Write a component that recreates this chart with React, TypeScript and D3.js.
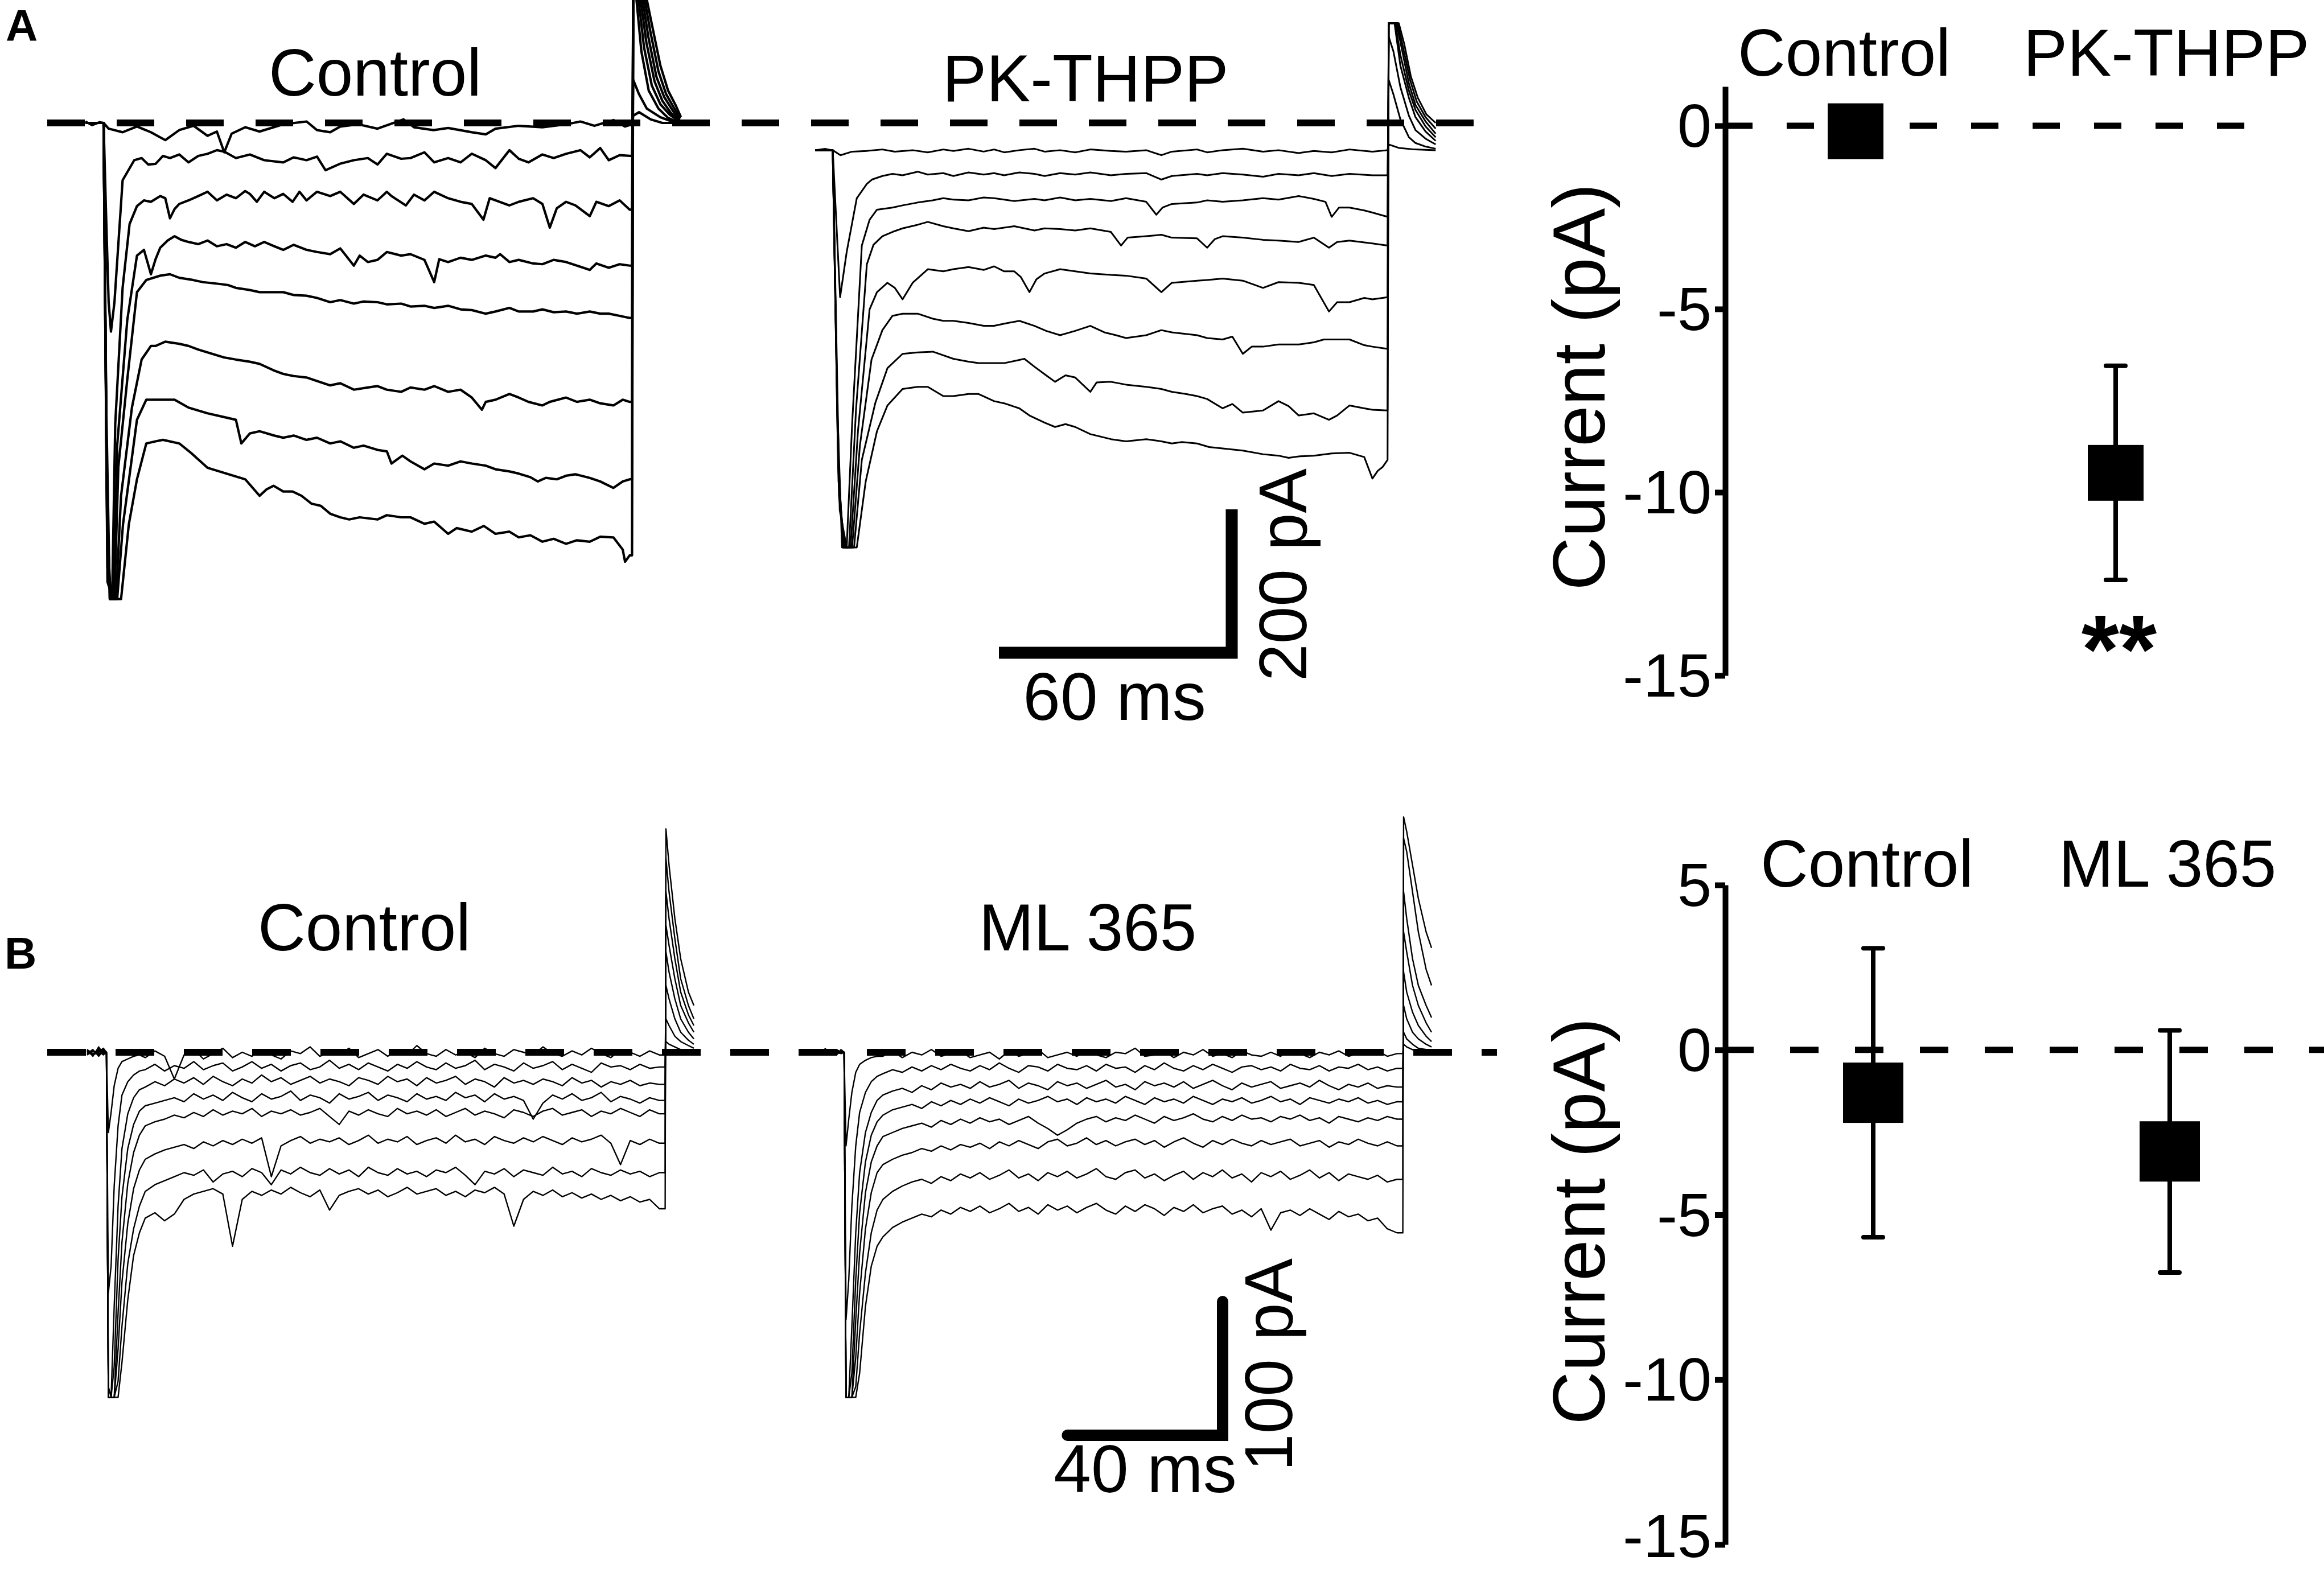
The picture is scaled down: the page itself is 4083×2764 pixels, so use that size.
import React, { useRef, useEffect } from "react";
import * as d3 from "d3";

type Pt = [number, number];

const W = 4083;
const H = 2764;
const FONT = "'Liberation Sans', Arial, Helvetica, sans-serif";

// ---------- Panel A, Control traces (ms, pA) ----------
const ctrlA: Pt[][] = [
  [[-4.7,2],[-3,-3],[-1,1],[0,0],[1.3,-8],[4.9,-13],[8.6,-5],[12.2,-13],[15.9,-24],[19.5,-10],[23.2,-4],[26.8,-18],[29.2,-12],[31.1,-41],[33,-15],[36.5,-6],[40.2,-12],[46.3,-2],[52.3,2],[55,-10],[58.4,-13],[61,-5],[65.7,-2],[70.6,-8],[77.3,5],[80,-6],[85,-10],[88.8,-7],[94.9,-13],[98.5,-16],[101,-8],[107,-4],[113.1,-6],[119.2,-2],[122.9,2],[126.5,-4],[131.4,4],[134.4,-5],[136.2,-2],[136.5,10],[138,15],[141,5],[144,0],[148.4,0]],
  [[-4.7,0],[-0.3,0],[0,0],[0.6,-120],[1.3,-250],[1.9,-291],[2.8,-250],[4.9,-80],[7.9,-52],[9.8,-49],[11.5,-58],[13.4,-57],[15.3,-46],[17.1,-49],[19.5,-44],[21.9,-55],[24.4,-46],[26.8,-43],[29.2,-38],[31.1,-40],[34.1,-49],[37.7,-44],[41.4,-52],[46.3,-55],[49,-48],[52.3,-52],[55,-47],[57.2,-66],[60.9,-57],[64.5,-52],[68.1,-49],[70.6,-58],[73,-43],[76.7,-50],[79.1,-49],[82.7,-41],[85.2,-55],[88.8,-49],[92,-55],[94.9,-43],[98.5,-52],[101,-63],[104.6,-38],[107,-50],[109.5,-55],[113.1,-44],[116,-49],[119.2,-43],[122.9,-38],[125.3,-48],[128,-35],[130.2,-52],[133,-45],[135.6,-46],[136.2,-46],[136.5,60],[138,40],[140,20],[143.5,8],[146,3],[148.4,0]],
  [[-4.7,0],[-0.3,0],[0,0],[0.7,-400],[1.6,-664],[2.2,-664],[3,-420],[4.9,-230],[6.7,-141],[8.6,-116],[10.4,-108],[12.2,-110],[14.6,-102],[15.9,-105],[17.1,-133],[18.3,-120],[19.5,-113],[21.9,-108],[24.4,-102],[26.8,-96],[29.2,-108],[31.7,-100],[34.1,-105],[36.5,-95],[37.7,-99],[39.5,-110],[41.4,-96],[44,-105],[46.3,-99],[48.7,-110],[50.5,-96],[52.3,-108],[55,-96],[58.4,-102],[61,-96],[64.5,-113],[67,-100],[70.6,-108],[73,-96],[74.2,-102],[77.9,-115],[80,-100],[82.7,-108],[85.2,-96],[88.8,-105],[92,-110],[94.9,-113],[97.9,-135],[99.5,-105],[101,-108],[104.6,-115],[107,-110],[110.7,-105],[113.1,-113],[115,-146],[116.8,-119],[119.2,-110],[121.6,-115],[125.3,-130],[127,-110],[130.2,-116],[133,-108],[135.6,-121],[136.2,-121],[136.5,180],[137.2,180],[138.6,100],[140.5,45],[143,20],[145.5,7],[148.4,0]],
  [[-4.7,0],[-0.3,0],[0,0],[0.8,-500],[1.6,-664],[2.6,-664],[3.5,-450],[6.1,-275],[8.6,-185],[10.4,-177],[12.2,-211],[13.4,-190],[14.6,-174],[16.5,-164],[18.3,-158],[20,-163],[21.9,-166],[24.4,-169],[26.8,-164],[29.2,-172],[31.7,-169],[34.1,-174],[36.5,-166],[39,-172],[41.4,-166],[44,-172],[46.3,-177],[49,-170],[52.3,-177],[55,-180],[58.4,-183],[61,-175],[64.5,-199],[66,-185],[68.1,-194],[70.6,-191],[73,-180],[76.7,-185],[79.1,-183],[82.7,-191],[85.2,-222],[86.5,-190],[88.8,-194],[92,-188],[94.9,-191],[98.5,-185],[101,-188],[102.2,-183],[104.6,-194],[107,-191],[110.7,-196],[113.1,-197],[116,-191],[119.2,-194],[122,-199],[125.3,-205],[127,-196],[130.2,-202],[133,-197],[135.6,-199],[136.2,-199],[136.5,180],[137.7,180],[139.3,105],[141.3,52],[143.5,26],[146,11],[148.4,2]],
  [[-4.7,0],[-0.3,0],[0,0],[0.9,-550],[1.8,-664],[2.8,-664],[3.8,-480],[6.1,-358],[8.6,-236],[11,-219],[14.6,-213],[17.1,-211],[19.5,-216],[23,-219],[25.6,-222],[29,-224],[32,-226],[34.1,-230],[37.7,-233],[40.2,-236],[43.8,-236],[46.3,-236],[49,-240],[52.3,-241],[55,-244],[58.4,-250],[61,-247],[64.5,-252],[67,-249],[70.6,-250],[73,-253],[76.7,-252],[79.1,-256],[82.7,-255],[85.2,-258],[88.8,-255],[92,-260],[94.9,-261],[98.5,-266],[101,-263],[104.6,-258],[107,-263],[110.7,-263],[113.1,-260],[116,-264],[119.2,-263],[122,-266],[125.3,-263],[128,-266],[130.2,-266],[133,-269],[135.6,-272],[136.2,-272],[136.5,180],[138.2,180],[139.9,112],[142,58],[144,31],[146.2,14],[148.4,3]],
  [[-4.7,0],[-0.3,0],[0,0],[1,-600],[2,-664],[3.2,-664],[4.5,-520],[7.3,-397],[9.8,-330],[12.2,-311],[13.4,-311],[15.9,-305],[17.1,-306],[19.5,-308],[21.9,-311],[24.4,-316],[28,-322],[31,-327],[34.1,-330],[37.7,-333],[40.2,-336],[43.8,-345],[46.3,-350],[49,-353],[52.3,-355],[55,-360],[58.4,-366],[61,-363],[64.5,-372],[68.1,-369],[70.6,-367],[73,-372],[76.7,-375],[79.1,-369],[82.7,-372],[85.2,-367],[88.8,-375],[92,-372],[94.9,-383],[97.5,-400],[98.5,-389],[101,-386],[104.6,-378],[107,-383],[109.5,-389],[113.1,-394],[115,-389],[119.2,-383],[122,-389],[125.3,-386],[128,-391],[131.4,-394],[133.8,-386],[135.6,-389],[136.2,-389],[136.5,180],[138.7,180],[140.4,120],[142.5,64],[144.5,36],[146.6,18],[148.4,4]],
  [[-4.7,0],[-0.3,0],[0,0],[1,-620],[2.2,-664],[3.5,-664],[5,-560],[8.6,-414],[11,-386],[14.6,-386],[18.3,-386],[21.9,-397],[26.8,-405],[31.7,-411],[34.1,-414],[35.5,-447],[37.7,-433],[40.2,-430],[44,-436],[46.3,-439],[49,-436],[52.3,-442],[55,-439],[58.4,-447],[61,-444],[64.5,-453],[67,-450],[70.6,-456],[73,-458],[74.2,-475],[77,-464],[79.1,-472],[82.7,-483],[85.2,-475],[88.8,-478],[92,-472],[94.9,-475],[98.5,-478],[101,-483],[104.6,-486],[107,-489],[110,-494],[111.9,-500],[114,-495],[116.8,-497],[119.2,-492],[121.6,-490],[125.3,-495],[128,-500],[131.4,-509],[133.8,-500],[135.6,-497],[136.2,-497],[136.5,180],[139.2,180],[140.9,128],[143,72],[145,40],[147,21],[148.6,6]],
  [[-4.7,0],[-0.3,0],[0,0],[1,-640],[2.4,-664],[4.5,-664],[6.5,-560],[8.6,-497],[11,-447],[13.4,-444],[15.3,-442],[19.5,-447],[22.5,-460],[26.8,-481],[31.7,-489],[36.5,-497],[40.2,-520],[42,-511],[43.8,-506],[46.3,-514],[48.7,-514],[51,-520],[53.6,-531],[56,-534],[58.4,-545],[61,-550],[63.3,-553],[66,-550],[70.6,-553],[73,-547],[76.7,-550],[79.1,-550],[82.7,-559],[85.2,-556],[88.8,-573],[91,-565],[94.9,-570],[98,-562],[101,-573],[104.6,-570],[107,-578],[110,-575],[113.1,-584],[116,-580],[119.2,-587],[122,-582],[125.3,-584],[128,-577],[131.4,-578],[133.8,-595],[134.4,-612],[135.6,-603],[136.2,-603],[136.5,180],[139.7,180],[141.4,135],[143.5,80],[145.5,45],[147.5,24],[148.8,8]],
];

// ---------- Panel A, PK-THPP traces (ms, pA) ----------
const pkA: Pt[][] = [
  [[-4.5,-38],[-2,-36],[-0.3,-38],[0,-38],[2,-45],[5,-40],[8.8,-39],[12.8,-37],[16,-40],[20.6,-38],[24.5,-41],[28.5,-37],[31.1,-39],[35,-36],[38.9,-40],[41.6,-37],[44.2,-41],[48.1,-38],[52,-36],[54.6,-40],[58.6,-38],[62.5,-41],[66.4,-37],[71.7,-39],[75.6,-40],[80.8,-38],[84.7,-45],[87.4,-40],[93.9,-37],[96.5,-41],[100.5,-38],[105.7,-36],[110.9,-40],[114.9,-38],[120.1,-42],[124,-39],[128.6,-41],[133.2,-37],[139.1,-40],[143,-38],[143.3,-30],[146,-35],[150,-37],[155.4,-38]],
  [[-4.5,-38],[-0.3,-38],[0,-38],[1.9,-243],[3.6,-180],[6.2,-105],[8.8,-85],[10.1,-79],[12.8,-74],[15.4,-71],[18,-73],[21.9,-68],[24.5,-72],[28.5,-70],[31.1,-74],[35,-69],[38.9,-72],[41.6,-70],[44.2,-73],[48.1,-69],[52,-71],[54.6,-74],[58.6,-70],[62.5,-72],[66.4,-69],[71.7,-73],[75.6,-71],[80.8,-70],[84.7,-79],[87.4,-74],[93.9,-71],[96.5,-73],[100.5,-70],[105.7,-72],[110.9,-75],[114.9,-71],[120.1,-73],[124,-70],[128.6,-74],[133.2,-71],[139.1,-73],[143,-73],[143.3,60],[144.5,40],[146.3,5],[148.5,-20],[150.2,-28],[152.8,-33],[155.4,-36]],
  [[-4.5,-38],[-0.3,-38],[0,-38],[1.2,-400],[2.4,-592],[3.6,-592],[5,-420],[7.5,-171],[9.5,-135],[11.4,-121],[15.4,-118],[18,-115],[21.9,-111],[25.8,-108],[28.5,-105],[31.1,-107],[35,-108],[38.9,-104],[41.6,-105],[46.8,-109],[52,-106],[54.6,-108],[58.6,-104],[62.5,-108],[66.4,-106],[71.7,-109],[75.6,-105],[80.8,-110],[83.4,-128],[85,-118],[87.4,-113],[93.9,-111],[96.5,-108],[100.5,-110],[105.7,-108],[110.9,-105],[114.9,-107],[120.1,-102],[124,-106],[127,-110],[128.6,-131],[130.5,-118],[133.2,-118],[137,-122],[139.1,-125],[143,-131],[143.3,120],[144.5,100],[146.3,50],[148.5,10],[150.2,-10],[152.8,-22],[155.4,-30]],
  [[-4.5,-38],[-0.3,-38],[0,-38],[1.3,-450],[2.6,-592],[4.2,-592],[6,-400],[8.8,-197],[10.5,-170],[12.8,-158],[15.4,-152],[18,-147],[21.9,-142],[24.5,-138],[28.5,-144],[31.1,-147],[35,-151],[38.9,-146],[41.6,-148],[46.8,-144],[52,-150],[54.6,-147],[58.6,-148],[62.5,-150],[66.4,-147],[71.7,-152],[74.3,-171],[76,-160],[80.8,-158],[84.7,-156],[87.4,-160],[93.9,-161],[96.5,-174],[98.5,-162],[100.5,-158],[105.7,-160],[110.9,-163],[114.9,-164],[120.1,-166],[124,-160],[127.9,-174],[130,-166],[133.2,-164],[139.1,-168],[143,-171],[143.3,139],[144.8,139],[146.3,80],[148.5,35],[150.2,8],[152.8,-12],[155.4,-25]],
  [[-4.5,-38],[-0.3,-38],[0,-38],[1.4,-480],[2.8,-592],[4.6,-592],[6.5,-430],[9.5,-260],[11.4,-236],[14.1,-223],[16,-230],[18,-246],[20.6,-223],[24.5,-204],[28.5,-207],[31.1,-204],[35,-201],[38.9,-205],[41.6,-200],[44.2,-207],[46.8,-207],[48.5,-215],[50.7,-236],[52.5,-218],[54.6,-210],[58.6,-204],[61.2,-206],[66.4,-210],[71.7,-212],[75.6,-213],[80.8,-217],[84.7,-236],[87.4,-223],[93.9,-220],[96.5,-219],[100.5,-217],[105.7,-220],[110.9,-230],[114.9,-222],[120.1,-223],[124,-226],[127.9,-263],[130,-250],[133.2,-250],[137,-244],[139.1,-246],[143,-243],[143.3,139],[145,139],[146.3,95],[148.5,45],[150.2,18],[152.8,-5],[155.4,-20]],
  [[-4.5,-38],[-0.3,-38],[0,-38],[1.5,-500],[3,-592],[5,-592],[7,-450],[10,-330],[12.8,-289],[15.4,-269],[18,-266],[21.9,-266],[25.8,-273],[28.5,-276],[31.1,-276],[35,-279],[38.9,-283],[41.6,-283],[44.2,-280],[48.1,-276],[52,-283],[55,-290],[58.6,-296],[62.5,-290],[66.4,-283],[70,-292],[73,-296],[75.6,-300],[80.8,-296],[84.7,-289],[87.4,-292],[93.9,-296],[96.5,-300],[100.5,-302],[103,-298],[105.7,-322],[108,-312],[110.9,-312],[114.9,-309],[120.1,-309],[124,-306],[126.6,-302],[133.2,-302],[137,-310],[139.1,-312],[143,-315],[143.3,139],[145.3,139],[146.8,100],[148.5,55],[150.2,25],[152.8,2],[155.4,-15]],
  [[-4.5,-38],[-0.3,-38],[0,-38],[1.6,-520],[3.2,-592],[5.5,-592],[7.5,-470],[11,-390],[14.1,-342],[18,-322],[21.9,-320],[25.8,-319],[31.1,-329],[35,-333],[37.6,-335],[41.6,-335],[44.2,-335],[49.4,-329],[52,-340],[55,-352],[57.3,-361],[60,-352],[62.5,-355],[66.4,-375],[68,-362],[71.7,-361],[75.6,-365],[80.8,-368],[84.7,-371],[87.4,-375],[91,-378],[93.9,-381],[96.5,-385],[100.5,-398],[103,-392],[105.7,-404],[110.9,-401],[114.9,-388],[117.5,-395],[120.1,-408],[124,-405],[127.9,-414],[130,-408],[133.2,-394],[137,-398],[139.1,-400],[143,-401],[143.3,139],[145.6,139],[147,105],[148.8,60],[150.5,30],[152.8,8],[155.4,-8]],
  [[-4.5,-38],[-0.3,-38],[0,-38],[1.8,-540],[3.6,-592],[6.2,-592],[8.5,-500],[11.4,-430],[14.1,-394],[18,-371],[21.9,-368],[24.5,-368],[28.5,-381],[31.1,-381],[35,-378],[37.6,-378],[41.6,-388],[44.2,-391],[48.1,-398],[50.7,-408],[54.6,-418],[57.3,-424],[60,-420],[62.5,-424],[66.4,-434],[71.7,-441],[75.6,-444],[80.8,-441],[84.7,-444],[87.4,-447],[90,-445],[93.9,-447],[97,-452],[100.5,-454],[105.7,-457],[110.9,-462],[114.9,-464],[117.5,-467],[120.1,-465],[124,-464],[128.6,-461],[133.2,-460],[137,-466],[139.1,-496],[140.5,-485],[141.7,-480],[143,-470],[143.3,139],[145.9,139],[147.3,110],[149,65],[150.8,35],[153,12],[155.4,0]],
];

// ---------- Panel B sample times (ms) ----------
const tB = [-5,-3.5,-2,-0.8, 0,0.5,1.2,2,3,4,5.5,7,8.5,
  10,12.5,15,17.5,20,22.5,25,27.5,30,32.5,35,37.5,40,42.5,45,47.5,50,52.5,55,57.5,60,62.5,65,67.5,70,72.5,75,77.5,80,82.5,85,87.5,90,92.5,95,97.5,100,102.5,105,107.5,110,112.5,115,117.5,120,122.5,125,127.5,130,132.5,135,137.5,140,142.5,
  144,144.2,145,146.5,148,150,151.4];

// ---------- Panel B, Control traces (pA at tB) ----------
const ctrlB: number[][] = [
  [2,-3,4,-1, -1,-60,-45,-25,-12,-7,-5,-3,-2,
   -4,1,-3,-20,-2,2,-5,-1,3,-4, 0,-3,2,-2,-5,1,-1,4,-3,0, -2,3,-4,-1,2,-3,1,-2,5,-1, -3,2,-2,0,-4,3,-1,-3,2,0, -2,4,-1,-3,1,-2,3,-1,-4,2, 0,-3,1,-2,
   -2,8,6,4,2,1,1],
  [1,-2,3,0, 0,-180,-160,-100,-55,-32,-22,-17,-14,
   -13,-9,-14,-10,-12,-7,-13,-10,-8,-14, -11,-7,-12,-9,-14,-10,-8,-13,-11,-6, -12,-9,-13,-8,-11,-14,-9,-12,-7,-11, -13,-8,-12,-10,-6,-13,-9,-11,-14,-8, -12,-10,-7,-13,-9,-12,-15,-8,-11,-10, -13,-9,-12,-11,
   -11,25,20,12,8,5,3],
  [-1,2,-3,1, 0,-250,-258,-190,-115,-72,-46,-34,-28,
   -26,-22,-25,-20,-23,-19,-24,-18,-22,-25, -20,-23,-17,-22,-19,-24,-21,-18,-23,-20, -22,-25,-19,-21,-24,-18,-22,-20,-25,-19, -23,-21,-18,-24,-20,-22,-26,-19,-23,-21, -24,-20,-22,-25,-19,-23,-21,-26,-22,-24, -21,-25,-23,-24,
   -24,50,40,25,15,9,6],
  [2,-1,1,-2, 0,-258,-258,-235,-155,-108,-72,-54,-44,
   -40,-38,-36,-34,-37,-31,-35,-32,-36,-30, -34,-37,-31,-35,-33,-29,-36,-32,-34,-38, -31,-35,-33,-30,-36,-32,-34,-37,-31,-35, -33,-36,-30,-34,-32,-37,-31,-35,-33,-36, -50,-38,-32,-35,-31,-36,-34,-30,-37,-33, -35,-38,-34,-36,
   -36,75,60,40,25,15,10],
  [-1,1,-2,2, 0,-258,-258,-258,-195,-142,-98,-75,-62,
   -55,-52,-50,-47,-49,-45,-48,-43,-47,-44, -46,-42,-48,-44,-46,-43,-47,-45,-42,-48, -54,-44,-47,-43,-46,-48,-42,-46,-44,-47, -43,-48,-45,-42,-47,-44,-46,-49,-43,-45, -48,-44,-42,-47,-45,-43,-48,-44,-46,-42, -45,-48,-43,-46,
   -46,95,80,55,35,22,15],
  [1,-2,0,3, 0,-258,-258,-258,-222,-172,-128,-102,-88,
   -80,-76,-73,-71,-69,-72,-67,-70,-66,-69, -65,-68,-64,-93,-70,-66,-63,-68,-65,-67, -64,-69,-66,-62,-68,-65,-67,-63,-69,-66, -64,-68,-62,-67,-65,-69,-63,-66,-68,-64, -67,-63,-66,-69,-64,-67,-65,-62,-68,-84, -66,-69,-65,-68,
   -68,120,100,70,45,28,20],
  [-2,1,-1,0, 0,-258,-258,-258,-246,-205,-158,-132,-115,
   -104,-99,-96,-93,-90,-92,-88,-97,-91,-89, -93,-87,-90,-99,-88,-91,-86,-90,-92,-87, -91,-88,-93,-86,-90,-92,-87,-91,-89,-93, -88,-90,-86,-92,-99,-89,-91,-87,-93,-88, -90,-92,-86,-91,-89,-93,-87,-90,-92,-88, -91,-89,-93,-90,
   -90,145,120,85,55,35,25],
  [0,-2,2,-1, 0,-258,-258,-258,-258,-232,-185,-152,-135,
   -124,-120,-126,-121,-110,-106,-104,-102,-106,-145, -110,-104,-107,-103,-106,-101,-105,-108,-103,-118, -107,-104,-102,-106,-103,-108,-105,-101,-106,-104, -102,-107,-104,-108,-103,-105,-101,-106,-130,-110, -104,-107,-103,-108,-105,-109,-106,-110,-107,-111, -108,-112,-110,-117,
   -117,167,140,100,70,45,35],
];

// ---------- Panel B, ML 365 traces (pA at tB) ----------
const mlB: number[][] = [
  [3,-1,2,0, -1,-70,-50,-30,-15,-9,-6,-4,-3,
   -3,1,-4,0,-2,2,-3,-1,1,-4, -2,0,-5,1,-3,-1,2,-4,-2,0, -3,1,-2,-4,0,-1,3,-3,-2,1, -4,0,-2,2,-3,-1,-4,1,-2,-3, 0,-3,2,-1,-4,0,-2,1,-3,-1, -2,1,-3,-1,
   -1,6,4,2,0,1,0],
  [-1,2,0,1, 0,-200,-170,-115,-70,-45,-30,-22,-18,
   -16,-13,-15,-11,-14,-10,-13,-9,-12,-14, -10,-13,-8,-12,-15,-10,-11,-14,-9,-12, -13,-10,-14,-9,-12,-11,-15,-10,-13,-8, -12,-14,-10,-13,-9,-12,-15,-11,-10,-13, -11,-14,-9,-12,-13,-10,-14,-11,-12,-9, -13,-11,-14,-12,
   -12,15,10,6,3,2,1],
  [1,0,-2,2, 0,-258,-258,-205,-135,-90,-60,-45,-36,
   -32,-29,-27,-30,-25,-28,-23,-26,-24,-27, -22,-26,-24,-21,-27,-23,-25,-28,-22,-25, -23,-27,-24,-21,-26,-24,-28,-22,-25,-23, -26,-22,-27,-24,-21,-25,-28,-23,-26,-24, -22,-27,-25,-23,-26,-21,-25,-28,-24,-26, -23,-27,-25,-26,
   -26,35,25,15,10,6,4],
  [-2,1,0,-1, 0,-258,-258,-240,-170,-120,-82,-62,-52,
   -47,-43,-41,-39,-42,-37,-40,-36,-39,-35, -38,-34,-37,-40,-35,-38,-36,-33,-37,-35, -39,-34,-37,-35,-38,-33,-36,-39,-34,-37, -35,-38,-33,-36,-39,-35,-37,-34,-38,-36, -33,-37,-35,-39,-34,-36,-38,-35,-37,-34, -38,-36,-39,-37,
   -37,60,45,30,20,12,8],
  [0,2,-1,1, 0,-258,-258,-258,-200,-150,-105,-82,-70,
   -63,-60,-57,-55,-53,-56,-51,-54,-50,-53, -49,-52,-50,-54,-51,-48,-53,-57,-62,-58, -53,-50,-48,-52,-49,-51,-47,-50,-53,-48, -51,-49,-46,-50,-52,-48,-51,-47,-50,-49, -52,-48,-50,-47,-51,-49,-53,-48,-50,-52, -49,-51,-48,-50,
   -50,90,75,50,35,22,15],
  [2,-1,1,0, 0,-258,-258,-258,-228,-180,-132,-105,-90,
   -84,-80,-77,-75,-72,-74,-70,-73,-69,-71, -68,-72,-67,-70,-66,-69,-72,-67,-65,-70, -68,-64,-69,-66,-70,-67,-65,-69,-66,-71, -67,-64,-68,-71,-66,-69,-65,-68,-70,-66, -69,-67,-65,-70,-68,-66,-71,-67,-69,-65, -68,-70,-67,-70,
   -70,120,100,70,50,35,26],
  [-1,1,-2,1, 0,-258,-258,-258,-250,-210,-165,-135,-118,
   -110,-104,-100,-97,-95,-98,-93,-96,-91,-94, -90,-95,-92,-88,-94,-91,-96,-90,-93,-89, -94,-91,-87,-93,-95,-90,-88,-94,-91,-96, -92,-89,-95,-90,-93,-88,-94,-91,-97,-90, -93,-89,-95,-92,-88,-94,-90,-96,-91,-93, -95,-92,-97,-95,
   -95,160,150,120,90,62,50],
  [1,-2,2,0, 0,-258,-258,-258,-258,-240,-190,-160,-145,
   -138,-131,-127,-124,-121,-123,-118,-121,-116,-119, -115,-120,-117,-113,-119,-116,-121,-114,-118,-115, -120,-116,-113,-118,-121,-115,-119,-114,-117,-122, -116,-119,-114,-120,-117,-115,-121,-118,-123,-117, -133,-120,-118,-122,-117,-121,-125,-119,-123,-121, -126,-124,-132,-135,
   -135,176,165,140,115,90,78],
];

// ---------- summary plots ----------
const catsA = ["Control", "PK-THPP"];
const meanA = [-0.15, -9.47];
const semA = [0, 2.92];
const ticksA = [0, -5, -10, -15];

const catsB = ["Control", "ML 365"];
const meanB = [-1.3, -3.08];
const semB = [4.38, 3.67];
const ticksB = [5, 0, -5, -10, -15];

type Sel = d3.Selection<SVGGElement, unknown, null, undefined>;

function text(g: Sel, s: string, x: number, y: number, size: number, anchor = "middle", weight = "normal", rot = 0) {
  const t = g
    .append("text")
    .attr("font-family", FONT)
    .attr("font-size", size)
    .attr("font-weight", weight)
    .attr("text-anchor", anchor)
    .attr("fill", "#000")
    .text(s);
  if (rot) t.attr("transform", `translate(${x},${y}) rotate(${rot})`);
  else t.attr("x", x).attr("y", y);
  return t;
}

function drawTraces(
  g: Sel,
  traces: Pt[][],
  x: d3.ScaleLinear<number, number>,
  y: d3.ScaleLinear<number, number>,
  width: number
) {
  const line = d3
    .line<Pt>()
    .x((d) => x(d[0]))
    .y((d) => y(d[1]));
  g.selectAll(null)
    .data(traces)
    .enter()
    .append("path")
    .attr("d", (d) => line(d))
    .attr("fill", "none")
    .attr("stroke", "#000")
    .attr("stroke-width", width)
    .attr("stroke-linejoin", "round");
}

function drawSummary(
  g: Sel,
  cats: string[],
  means: number[],
  sems: number[],
  ticks: number[],
  xr: [number, number],
  yDomain: [number, number],
  yRange: [number, number],
  zeroEnd: number,
  dash: string,
  size: number
) {
  const x = d3.scalePoint<string>().domain(cats).range(xr);
  const y = d3.scaleLinear().domain(yDomain).range(yRange);
  const axisX = 3031;

  g.append("line")
    .attr("x1", axisX)
    .attr("x2", zeroEnd)
    .attr("y1", y(0))
    .attr("y2", y(0))
    .attr("stroke", "#000")
    .attr("stroke-width", 11)
    .attr("stroke-dasharray", dash);

  const ax = g
    .append("g")
    .attr("transform", `translate(${axisX},0)`)
    .call(
      d3
        .axisLeft(y)
        .tickValues(ticks)
        .tickSize(18)
        .tickSizeOuter(0)
        .tickPadding(6)
        .tickFormat((d) => String(d))
    );
  ax.select(".domain").attr("stroke-width", 10);
  ax.selectAll(".tick line").attr("stroke-width", 10);
  ax.selectAll<SVGTextElement, number>(".tick text")
    .attr("font-family", FONT)
    .attr("font-size", 108)
    .attr("fill", "#000")
    // keep the lowest label inside the picture's bottom edge
    .attr("dy", (d) => (y(d) > H - 60 ? "0.2em" : "0.34em"));

  const data = cats.map((c, i) => ({ c, m: means[i], s: sems[i] }));
  const eb = g.selectAll(null).data(data.filter((d) => d.s > 0)).enter().append("g");
  eb.append("line")
    .attr("x1", (d) => x(d.c)!)
    .attr("x2", (d) => x(d.c)!)
    .attr("y1", (d) => y(d.m + d.s))
    .attr("y2", (d) => y(d.m - d.s))
    .attr("stroke", "#000")
    .attr("stroke-width", 8);
  [1, -1].forEach((sgn) => {
    eb.append("line")
      .attr("x1", (d) => x(d.c)! - 17)
      .attr("x2", (d) => x(d.c)! + 17)
      .attr("y1", (d) => y(d.m + sgn * d.s))
      .attr("y2", (d) => y(d.m + sgn * d.s))
      .attr("stroke", "#000")
      .attr("stroke-width", 8)
      .attr("stroke-linecap", "round");
  });

  g.selectAll(null)
    .data(data)
    .enter()
    .append("rect")
    .attr("x", (d) => x(d.c)! - size / 2)
    .attr("y", (d) => y(d.m) - size / 2)
    .attr("width", size)
    .attr("height", size)
    .attr("fill", "#000");
  return { x, y };
}

export default function App() {
  const ref = useRef<SVGSVGElement | null>(null);

  useEffect(() => {
    const svg = d3.select(ref.current);
    svg.selectAll("*").remove();
    svg.append("rect").attr("width", W).attr("height", H).attr("fill", "#fff");
    const g = svg.append("g") as unknown as Sel;

    // panel letters
    text(g, "A", 10, 72, 78, "start", "bold");
    text(g, "B", 8, 1702, 78, "start", "bold");

    // ---- trace panels ----
    const msPx = 409 / 60;
    const xCA = d3.scaleLinear().domain([0, 60]).range([182, 182 + 60 * msPx]);
    const xPK = d3.scaleLinear().domain([0, 60]).range([1463, 1463 + 60 * msPx]);
    const yA = d3.scaleLinear().domain([0, -200]).range([216, 216 + 252]);
    const xCB = d3.scaleLinear().domain([0, 40]).range([187, 187 + 40 * msPx]);
    const xML = d3.scaleLinear().domain([0, 40]).range([1483, 1483 + 40 * msPx]);
    const yB = d3.scaleLinear().domain([0, -100]).range([1849, 1849 + 235]);

    // zero (holding) dashed lines
    g.append("line").attr("x1", 83).attr("x2", 2640).attr("y1", yA(0)).attr("y2", yA(0))
      .attr("stroke", "#000").attr("stroke-width", 12).attr("stroke-dasharray", "66 56");
    g.append("line").attr("x1", 83).attr("x2", 2630).attr("y1", yB(0)).attr("y2", yB(0))
      .attr("stroke", "#000").attr("stroke-width", 12).attr("stroke-dasharray", "68 52");

    drawTraces(g, ctrlA, xCA, yA, 4.2);
    drawTraces(g, pkA, xPK, yA, 3);
    const zip = (v: number[]): Pt[] => v.slice(0, tB.length).map((val, i) => [tB[i], val]);
    drawTraces(g, ctrlB.map(zip), xCB, yB, 2.4);
    drawTraces(g, mlB.map(zip), xML, yB, 2.4);

    text(g, "Control", 659, 168, 116);
    text(g, "PK-THPP", 1907, 178, 116);
    text(g, "Control", 640, 1670, 116);
    text(g, "ML 365", 1911, 1670, 116);

    // scale bars
    const sbA = { x: 2164, y: 1147 };
    g.append("path")
      .attr("d", `M${sbA.x - (xCA(60) - xCA(0))},${sbA.y}H${sbA.x}V${sbA.y - (yA(-200) - yA(0))}`)
      .attr("fill", "none").attr("stroke", "#000").attr("stroke-width", 21).attr("stroke-linecap", "butt");
    text(g, "60 ms", 1958, 1265, 118);
    text(g, "200 pA", 2295, 1010, 118, "middle", "normal", -90);

    const sbB = { x: 2148, y: 2522 };
    g.append("path")
      .attr("d", `M${sbB.x - (xCB(40) - xCB(0))},${sbB.y}H${sbB.x}V${sbB.y - (yB(-100) - yB(0))}`)
      .attr("fill", "none").attr("stroke", "#000").attr("stroke-width", 20).attr("stroke-linecap", "round");
    text(g, "40 ms", 2012, 2622, 118);
    text(g, "100 pA", 2270, 2398, 118, "middle", "normal", -90);

    // ---- summary plots ----
    drawSummary(g, catsA, meanA, semA, ticksA, [3260, 3717], [-15, 1.07], [1187, 152], 3943, "48 60", 98);
    text(g, "Control", 3240, 133, 116);
    text(g, "PK-THPP", 3806, 133, 116);
    text(g, "Current (pA)", 2819, 680, 130, "middle", "normal", -90);
    text(g, "**", 3723, 1200, 170, "middle", "bold");

    drawSummary(g, catsB, meanB, semB, ticksB, [3291, 3812], [-15, 5], [2714, 1555], 4083, "50 64", 106);
    text(g, "Control", 3280, 1558, 116);
    text(g, "ML 365", 3808, 1558, 116);
    text(g, "Current (pA)", 2819, 2146, 130, "middle", "normal", -90);
  }, []);

  return (
    <svg
      ref={ref}
      width={W}
      height={H}
      style={{ position: "absolute", left: 0, top: 0, display: "block" }}
    />
  );
}
